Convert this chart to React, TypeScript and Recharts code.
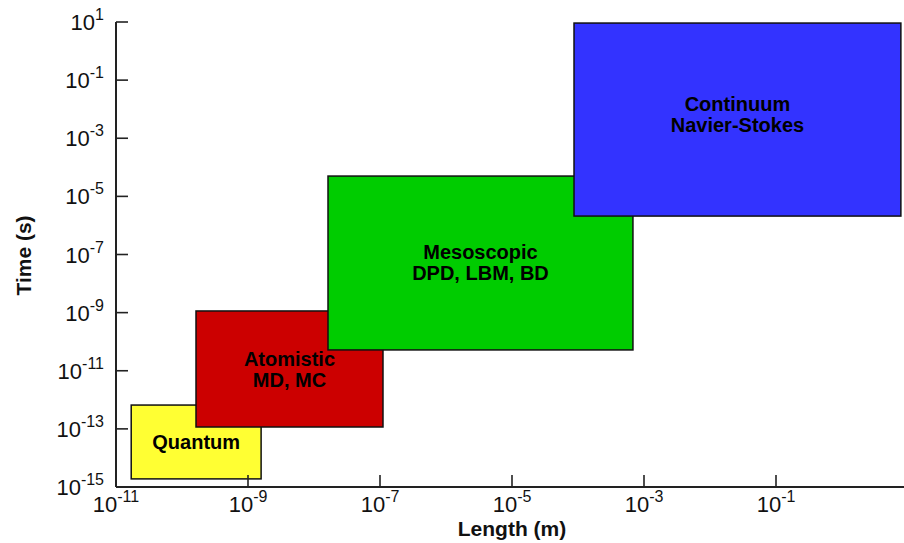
import React from 'react';
import { ComposedChart, XAxis, YAxis, ReferenceArea } from 'recharts';

// ---- data ----
const xTicks = [1e-11, 1e-9, 1e-7, 1e-5, 1e-3, 1e-1];
const yTicks = [1e1, 1e-1, 1e-3, 1e-5, 1e-7, 1e-9, 1e-11, 1e-13, 1e-15];
const xDomain = [1e-11, 1e1];
const yDomain = [1e-15, 1e1];

const regimeNames = ['Quantum', 'Atomistic', 'Mesoscopic', 'Continuum'];
const regimeMethods = ['', 'MD, MC', 'DPD, LBM, BD', 'Navier-Stokes'];
const lengthMin = [1.7e-11, 1.63e-10, 1.63e-8, 8.7e-5];
const lengthMax = [1.58e-9, 1.11e-7, 6.8e-4, 7.8];
const timeMin = [1.9e-15, 1.16e-13, 5.2e-11, 2.1e-6];
const timeMax = [6.6e-13, 1.14e-9, 5.0e-5, 9.2];
const regimeColors = ['#FFFF33', '#CC0000', '#00CC00', '#3333FF'];

const xTitle = 'Length (m)';
const yTitle = 'Time (s)';

// ---- styles ----
const FONT = '"Liberation Sans", Arial, sans-serif';
const AXIS_COLOR = '#222';
const labelDy = [0, 1, -1, -5];

const expOf = (v: number) => String(Math.round(Math.log10(v)));

const XTick = (props: any) => {
  const { x, y, payload } = props;
  return (
    <g>
      <line x1={x} x2={x} y1={y} y2={y - 12} stroke={AXIS_COLOR} strokeWidth={1.6} />
      <text x={x} y={y + 25} textAnchor="middle" fontFamily={FONT} fontSize={22} fill="#111">
        <tspan>10</tspan>
        <tspan dy={-10} fontSize={16}>{expOf(payload.value)}</tspan>
      </text>
    </g>
  );
};

const YTick = (props: any) => {
  const { x, y, payload } = props;
  return (
    <g>
      <line x1={x} x2={x + 12} y1={y} y2={y} stroke={AXIS_COLOR} strokeWidth={1.6} />
      <text x={x - 12} y={y + 8} textAnchor="end" fontFamily={FONT} fontSize={22} fill="#111">
        <tspan>10</tspan>
        <tspan dy={-10} fontSize={16}>{expOf(payload.value)}</tspan>
      </text>
    </g>
  );
};

const makeShape = (i: number) => (props: any) => {
  const { x, y, width, height } = props;
  const lines = [regimeNames[i], regimeMethods[i]].filter((s) => s.length > 0);
  const cx = x + width / 2;
  const cy = y + height / 2 + labelDy[i];
  const lh = 21;
  const n = lines.length;
  return (
    <g>
      <rect x={x} y={y} width={width} height={height} fill={regimeColors[i]} stroke="#111" strokeWidth={1.5} />
      <text textAnchor="middle" fontFamily={FONT} fontWeight="bold" fontSize={20} fill="#000">
        {lines.map((l, k) => (
          <tspan key={k} x={cx} y={cy + (k - (n - 1) / 2) * lh + 7}>
            {l}
          </tspan>
        ))}
      </text>
    </g>
  );
};

const XTitle = (props: any) => {
  const vb = props.viewBox || { x: 116, y: 487, width: 792, height: 40 };
  return (
    <text x={vb.x + vb.width / 2} y={vb.y + 49} textAnchor="middle" fontFamily={FONT} fontWeight="bold" fontSize={21} fill="#111">
      {xTitle}
    </text>
  );
};

const YTitle = (props: any) => {
  const vb = props.viewBox || { x: 36, y: 22, width: 80, height: 465 };
  const cx = 31;
  const cy = vb.y + vb.height / 2 + 1;
  return (
    <text x={cx} y={cy} transform={`rotate(-90, ${cx}, ${cy})`} textAnchor="middle" fontFamily={FONT} fontWeight="bold" fontSize={21} fill="#111">
      {yTitle}
    </text>
  );
};

export default function App() {
  return (
    <div style={{ position: 'absolute', left: 0, top: 0, width: 904, height: 543, overflow: 'hidden', background: '#fff' }}>
      <ComposedChart width={912} height={543} data={[]} margin={{ top: 22, right: 4, left: 36, bottom: 16 }}>
        <XAxis
          type="number"
          dataKey="x"
          scale="log"
          domain={xDomain}
          ticks={xTicks}
          allowDataOverflow
          height={40}
          tickSize={0}
          tickMargin={0}
          tickLine={false}
          axisLine={{ stroke: AXIS_COLOR, strokeWidth: 2 }}
          tick={<XTick />}
          interval={0}
          label={{ content: <XTitle /> }}
        />
        <YAxis
          type="number"
          dataKey="y"
          scale="log"
          domain={yDomain}
          ticks={yTicks}
          allowDataOverflow
          width={80}
          tickSize={0}
          tickMargin={0}
          tickLine={false}
          axisLine={{ stroke: AXIS_COLOR, strokeWidth: 2 }}
          tick={<YTick />}
          interval={0}
          label={{ content: <YTitle /> }}
        />
        {regimeNames.map((name, i) => (
          <ReferenceArea
            key={name}
            x1={lengthMin[i]}
            x2={lengthMax[i]}
            y1={timeMin[i]}
            y2={timeMax[i]}
            ifOverflow="visible"
            shape={makeShape(i)}
          />
        ))}
      </ComposedChart>
    </div>
  );
}
